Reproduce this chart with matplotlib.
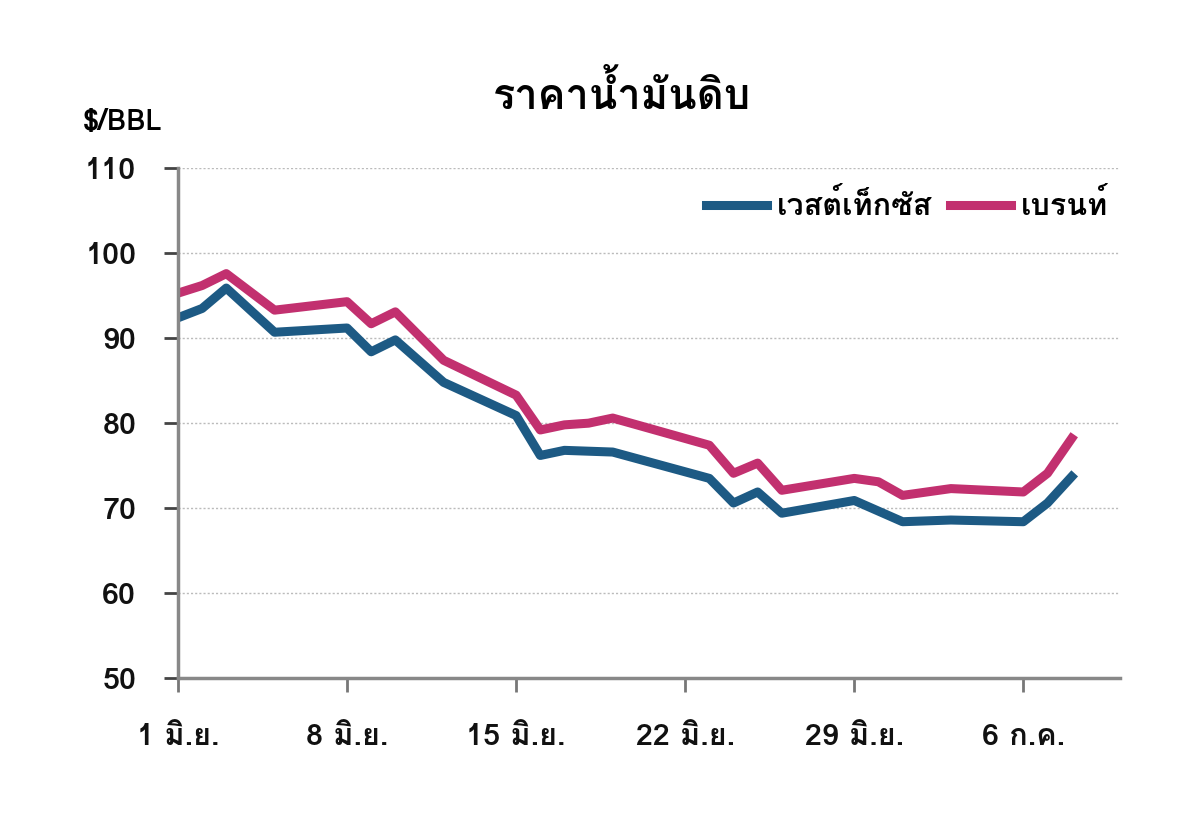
import matplotlib
matplotlib.use("Agg")
import matplotlib.pyplot as plt
from matplotlib import font_manager
from matplotlib.ft2font import FT2Font

# วันที่นับจาก 1 มิ.ย. (0 = 1 มิ.ย.)
days_wti = [0, 1, 2, 4, 7, 8, 9, 11, 14, 15, 16, 18, 22, 23, 24, 25, 28, 30, 32, 35, 36, 37]
wti = [92.4, 93.5, 95.9, 90.7, 91.2, 88.4, 89.8, 84.8, 80.9, 76.2, 76.8, 76.6, 73.5, 70.6,
       71.9, 69.4, 70.9, 68.4, 68.6, 68.4, 70.6, 73.7]

days_brent = [0, 1, 2, 4, 7, 8, 9, 11, 14, 15, 16, 17, 18, 22, 23, 24, 25, 28, 29, 30, 32, 35, 36, 37]
brent = [95.3, 96.2, 97.6, 93.3, 94.3, 91.7, 93.1, 87.4, 83.3, 79.2, 79.8, 80.0, 80.6, 77.4,
         74.1, 75.3, 72.1, 73.5, 73.1, 71.5, 72.3, 71.9, 74.1, 78.2]

tick_days = [0, 7, 14, 21, 28, 35]
tick_labels = ["1 มิ.ย.", "8 มิ.ย.", "15 มิ.ย.", "22 มิ.ย.", "29 มิ.ย.", "6 ก.ค."]
y_ticks = [50, 60, 70, 80, 90, 100, 110]


def findThaiFont():
    names = []
    for f in font_manager.fontManager.ttflist:
        try:
            if 0x0E23 in FT2Font(f.fname).get_charmap():
                if f.name not in names:
                    names.append(f.name)
        except Exception:
            pass
    return names


thai = findThaiFont()
plt.rcParams['font.family'] = thai + ['DejaVu Sans']

fig = plt.figure(figsize=(12, 8.33), dpi=100)
ax = fig.add_axes([0.1483, 0.186, 0.785, 0.612])

ax.plot(days_wti, wti, color='#1d5a84', lw=6.5, label='เวสต์เท็กซัส', solid_joinstyle='round')
ax.plot(days_brent, brent, color='#c2306f', lw=6.5, label='เบรนท์', solid_joinstyle='round')

ax.set_xlim(0, 39)
ax.set_ylim(50, 110)
ax.set_yticks(y_ticks)
ax.set_xticks(tick_days)
ax.set_xticklabels(tick_labels)
ax.tick_params(axis='both', labelsize=22, length=10, width=2, colors='#111111')
ax.tick_params(axis='x', pad=22, color='#777777')
ax.tick_params(axis='y', pad=20, color='#444444')
for lab in ax.get_xticklabels() + ax.get_yticklabels():
    lab.set_fontweight('bold')

ax.grid(axis='y', color='#bbbbbb', linestyle=(0, (1.5, 1.5)), lw=1)
for s in ['top', 'right']:
    ax.spines[s].set_visible(False)
ax.spines['left'].set_color('#888888')
ax.spines['bottom'].set_color('#888888')
ax.spines['left'].set_linewidth(2.5)
ax.spines['bottom'].set_linewidth(2.5)

leg = ax.legend(loc='center right', ncol=2, frameon=False, fontsize=22, handlelength=2,
                columnspacing=0.6, handletextpad=0.3, borderaxespad=0,
                bbox_to_anchor=(1.0, 0.927))
for t in leg.get_texts():
    t.set_fontweight('bold')

fig.text(0.518, 0.886, 'ราคาน้ำมันดิบ', ha='center', va='center', fontsize=30, fontweight='bold')
fig.text(0.069, 0.853, '$/BBL', ha='left', va='center', fontsize=21, fontweight='bold')

fig.savefig('out.png', dpi=100)
